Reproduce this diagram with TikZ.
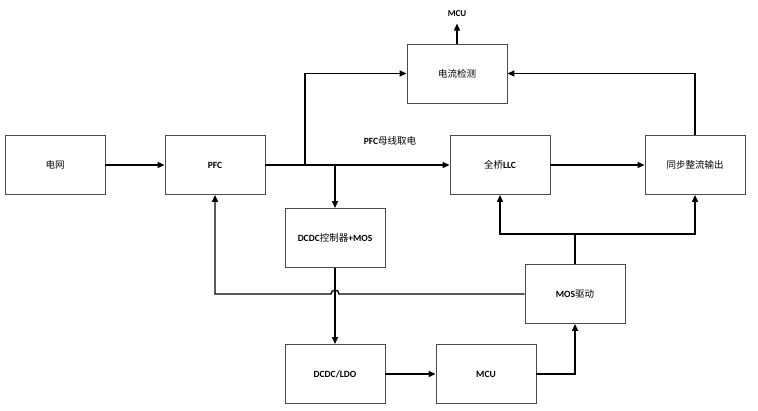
\documentclass[tikz,border=0pt]{standalone}
\usepackage{fontspec}
\setmainfont{Carlito}
\newfontfamily\cjkf{Noto Sans CJK SC}
\newcommand{\cjk}{\cjkf\mdseries}
\usetikzlibrary{arrows.meta,calc}
\begin{document}
\begin{tikzpicture}[x=1pt,y=-1pt,
  blk/.style={draw=black!70,line width=0.9pt,minimum width=100pt,minimum height=59pt,inner sep=0pt,font=\fontsize{9.5}{10}\selectfont\bfseries},
  conn/.style={line width=1.4pt,-{Triangle[length=7pt,width=6pt]}},
  plain/.style={line width=1.4pt}]
\useasboundingbox (0,0) rectangle (758,411);
\node[blk] (grid) at (55,165) {{\cjk 电网}};
\node[blk] (pfc) at (215,165) {PFC};
\node[blk] (cur) at (457,73.5) {{\cjk 电流检测}};
\node[blk] (llc) at (500,165) {{\cjk 全桥}LLC};
\node[blk] (sync) at (695,165) {{\cjk 同步整流输出}};
\node[blk] (dcc) at (335,238) {DCDC{\cjk 控制器}+MOS};
\node[blk] (mosd) at (575,294) {MOS{\cjk 驱动}};
\node[blk] (ldo) at (335,374) {DCDC/LDO};
\node[blk] (mcu) at (486,374) {MCU};
\node[font=\fontsize{9}{10}\selectfont\bfseries] (mcutop) at (457,14) {MCU};
\node[font=\fontsize{9.5}{10}\selectfont\bfseries] (bus) at (390,141) {PFC{\cjk 母线取电}};
\coordinate (b1) at (305,165);
\coordinate (b2) at (335,165);
\coordinate (j) at (575,234);
% connectors
\draw[conn] (grid) -- (pfc);
\draw[conn] (pfc) -- (llc);
\draw[conn] (b1) |- (cur.west);
\draw[conn] (b2) -- (dcc.north);
\draw[conn] (dcc.south) -- (ldo.north);
\draw[conn] (ldo) -- (mcu);
\draw[conn] (mcu.east) -| (mosd.south);
\draw[conn] (cur.north) -- ([yshift=-3pt]cur.north |- mcutop.south);
\draw[conn] (llc) -- (sync);
\draw[conn] (sync.north) |- (cur.east);
\draw[plain] (mosd.north) -- (j);
\draw[conn] (j) -| (llc.south);
\draw[conn] (j) -| (sync.south);
\draw[conn] (mosd.west) -- ([xshift=4pt]mosd.west -| dcc.south) arc[start angle=0,end angle=180,radius=4pt] -- (mosd.west -| pfc.south) -- (pfc.south);
\end{tikzpicture}
\end{document}
